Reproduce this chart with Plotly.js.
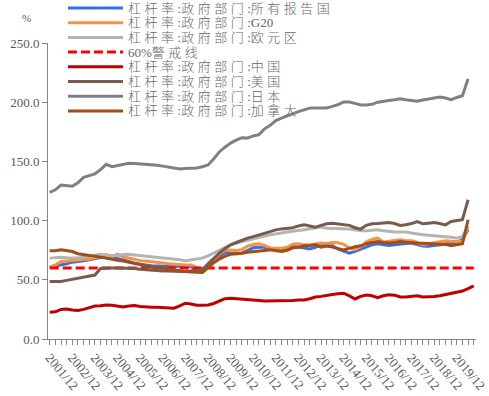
<!DOCTYPE html>
<html><head><meta charset="utf-8">
<script src="https://cdn.plot.ly/plotly-3.0.1.min.js"></script>
<style>html,body{margin:0;padding:0;background:#fff}#chart{width:489px;height:396px}</style>
</head><body><div id="chart"></div>
<script>
const quarters = ["2001/12",
 "2002/03","2002/06","2002/09","2002/12","2003/03","2003/06","2003/09","2003/12",
 "2004/03","2004/06","2004/09","2004/12","2005/03","2005/06","2005/09","2005/12",
 "2006/03","2006/06","2006/09","2006/12","2007/03","2007/06","2007/09","2007/12",
 "2008/03","2008/06","2008/09","2008/12","2009/03","2009/06","2009/09","2009/12",
 "2010/03","2010/06","2010/09","2010/12","2011/03","2011/06","2011/09","2011/12",
 "2012/03","2012/06","2012/09","2012/12","2013/03","2013/06","2013/09","2013/12",
 "2014/03","2014/06","2014/09","2014/12","2015/03","2015/06","2015/09","2015/12",
 "2016/03","2016/06","2016/09","2016/12","2017/03","2017/06","2017/09","2017/12",
 "2018/03","2018/06","2018/09","2018/12","2019/03","2019/06","2019/09","2019/12",
 "2020/03","2020/06","2020/09"];

const allReporting = [60.7,61.5,62.6,63.5,64.9,65.3,66,67,68,68.8,69.3,69.6,68,67,65.5,64,63,62.5,61.8,61.5,
 61.3,61.2,61.2,61.5,61.8,61,59,59,61.5,65.5,70,73,72.5,72,72.5,75,77,77.5,77.5,75.9,
 75.9,75.9,76.5,78.5,77.5,76.5,76,77.5,79.5,79,78.7,76,73.9,72.5,74,76,78,79.5,80.4,80,
 79,79.5,80.4,80.7,81,80,78.5,78.3,78.8,79.5,80.2,81,81.5,84,92.2];
const g20 = [60.5,62.5,65.4,65.7,66,66.4,66.8,67.5,68.5,70,71.3,69.5,71.6,69.5,68.3,67,66.2,65.8,65.4,65,
 64.2,63.5,63,62.6,62.6,62.6,60.5,58.4,62,67,71.5,75.3,75,74.7,75.5,78.5,79.8,80.4,79,76.7,
 76.7,76.7,77.5,80,80.4,79.5,79.5,80,81,80.7,81.5,81.2,80,77,75.5,78,82,84,85.2,82,
 82.5,83.5,83.8,83,82.9,81.5,79.5,80.5,81.5,82.5,82.9,82.6,82.3,82.3,95];
const euroArea = [68.3,68.7,69.1,68.7,68.3,68.5,69.1,70,71,71.6,70.5,70.2,70.5,71.3,71.5,71,70.5,70.5,70,69.5,
 68.8,68.3,67.9,67,66.2,67,67.5,68.3,70.2,72.5,75.3,77.5,79.5,81,82.3,83,84.5,86,87,88,
 89,89.5,90.3,90.8,91.5,92.3,93,93.5,94.5,93.5,93.5,93.7,93.2,92.8,92,91.4,91.5,92,92.2,91.5,
 90.8,90.3,90.3,90.3,89.5,88.5,88,87.7,87.4,87,86.5,86,85.2,86.5,95];
const alertLevel = 60;
const china = [22.5,23,25,25.3,24.5,24,25,26.5,27.9,28,28.8,28.5,27.5,27,27.8,28.2,27.5,27,26.8,26.8,
 26.5,26,26,28,30.2,29.5,28.5,28.5,28.8,30,32,34,34.5,34.2,33.8,33.5,33,32.5,32,32,
 32,32,32,32.5,33,33,34,35.5,36,36.5,37.5,38.2,38.7,36.5,33.8,36,37.2,36.5,35,36.5,
 37.3,37,35.5,35.5,36,36.5,35.5,35.5,36,36.6,37.5,38.5,39,40.5,42.5,44.8];
const usa = [48.5,48.5,48.5,49.5,50.5,51.5,52.5,53,54,59.5,60,60,60,60,60,59.5,59,58.5,58.5,58,
 57.5,57.5,57,57,57,57.5,58,58.5,63.5,68.3,72.5,76.5,79.5,81.5,83.5,85.2,86.5,88,89,90.5,
 92.2,93,93.5,94,95.5,96.4,95.5,94.5,96,97.3,97.8,97,96.4,96,94,92.8,96,97.3,97.5,98,
 98.4,97.5,95.9,96.5,97.5,99.2,97.3,97.8,98.4,97.5,96.4,99.2,100,100.7,117.6];
const japan = [123.8,126,130,129.5,129,132,136.5,138,139.5,143,147.5,145.5,146.5,147,148.5,148.3,148,147.8,147.2,146.7,
 146,145,144,143.5,144,144.3,144.5,145.5,147,152,158,162,165.5,168,170,169.7,171.5,172.6,177.5,180.5,
 184.5,186.5,188.5,190.5,192,193.5,195,195.2,195.2,195.2,196.5,198,200.2,200.2,199,197.7,197.7,198.2,200,201,
 201.5,202,202.8,202,201.3,200.8,201.8,202.5,203.5,204.3,203.5,202.2,204,205.5,219.7];
const canada = [74.5,74.5,75.3,74.5,73.9,72,71,70.5,70,69,68,67.5,66.5,65.8,65,64,62.8,61.5,60.5,60,
 59.8,59,58.2,57.5,57,56.5,56.2,56.2,60,64.5,67.5,70,71.5,72.3,72.5,73.2,73.9,74.4,74.8,75.3,
 74.5,73.9,75,77,77.5,78.7,79,79.5,77.5,78.5,77.6,76.5,75.3,76.5,78,78.7,80.5,81.5,82.3,81.5,
 81,81.5,82.3,81.8,81.2,81,80.8,80.4,80.2,80.1,80,78.7,79.5,80.4,100.7];

const seriesNames = ["杠杆率:政府部门:所有报告国","杠杆率:政府部门:G20","杠杆率:政府部门:欧元区","60%警戒线",
 "杠杆率:政府部门:中国","杠杆率:政府部门:美国","杠杆率:政府部门:日本","杠杆率:政府部门:加拿大"];
const alertSeries = quarters.map(() => alertLevel);
const seriesValues = [allReporting, g20, euroArea, alertSeries, china, usa, japan, canada];
const colors = ["#3a6ee6","#f7923f","#b4b4b4","#ff0000","#c00000","#7a5a4e","#808080","#a04e17"];
const dashes = ["solid","solid","solid","9px,4px","solid","solid","solid","solid"];

const traces = seriesValues.map((vals, k) => ({
  type: "scatter", mode: "lines", name: seriesNames[k],
  x: vals.map((_, i) => i), y: vals,
  line: {color: colors[k], width: 3, dash: dashes[k]},
  showlegend: false, hoverinfo: "skip"
}));

const L = 48, R = 476, T = 43, B = 339;
const px = v => (v - L) / (R - L);
const py = v => (B - v) / (B - T);
const spaced = s => s.replace(/([\u4e00-\u9fff]+)/g, '<span style="letter-spacing:3.5px">$1</span>');
const shapes = [], annotations = [];
seriesNames.forEach((name, k) => {
  const yy = 8 + k * 14.7;
  shapes.push({type: "line", xref: "paper", yref: "paper", x0: px(68), x1: px(123), y0: py(yy), y1: py(yy),
    line: {color: colors[k], width: 3, dash: dashes[k]}});
  annotations.push({xref: "paper", yref: "paper", x: px(126), y: py(yy), xanchor: "left", yanchor: "middle",
    text: spaced(name), showarrow: false,
    font: {size: 13, color: "#666666", weight: 300, family: "Liberation Serif, Noto Sans CJK SC"}});
});
annotations.push({xref: "paper", yref: "paper", x: px(26), y: py(18), xanchor: "center", yanchor: "middle",
  text: "%", showarrow: false, font: {size: 11, color: "#595959", family: "Liberation Serif"}});

const tickIdx = quarters.map((q, i) => q.endsWith("/12") ? i : -1).filter(i => i >= 0);
const tickText = tickIdx.map(i => quarters[i]);

const layout = {
  width: 489, height: 396,
  margin: {l: L, r: 489 - R, t: T, b: 396 - B},
  paper_bgcolor: "#fff", plot_bgcolor: "#fff",
  showlegend: false,
  xaxis: {
    range: [-0.3, 75.4], showgrid: false, zeroline: false,
    showline: true, linecolor: "#868686", linewidth: 1,
    tickmode: "array", tickvals: tickIdx, ticktext: tickText,
    ticks: "outside", ticklen: 5, tickcolor: "#868686",
    minor: {tickmode: "linear", tick0: 0, dtick: 1, ticks: "outside", ticklen: 5, tickcolor: "#868686"},
    tickangle: 50,
    tickfont: {family: "Liberation Serif", size: 13, color: "#595959"}
  },
  yaxis: {
    range: [0, 250], dtick: 50, tickformat: ".1f",
    showgrid: false, zeroline: false,
    showline: true, linecolor: "#868686", linewidth: 1,
    ticks: "outside", ticklen: 5, tickcolor: "#868686",
    tickfont: {family: "Liberation Serif", size: 13, color: "#595959"}
  },
  shapes: shapes, annotations: annotations
};
Plotly.newPlot("chart", traces, layout, {staticPlot: true, displayModeBar: false});
</script></body></html>
